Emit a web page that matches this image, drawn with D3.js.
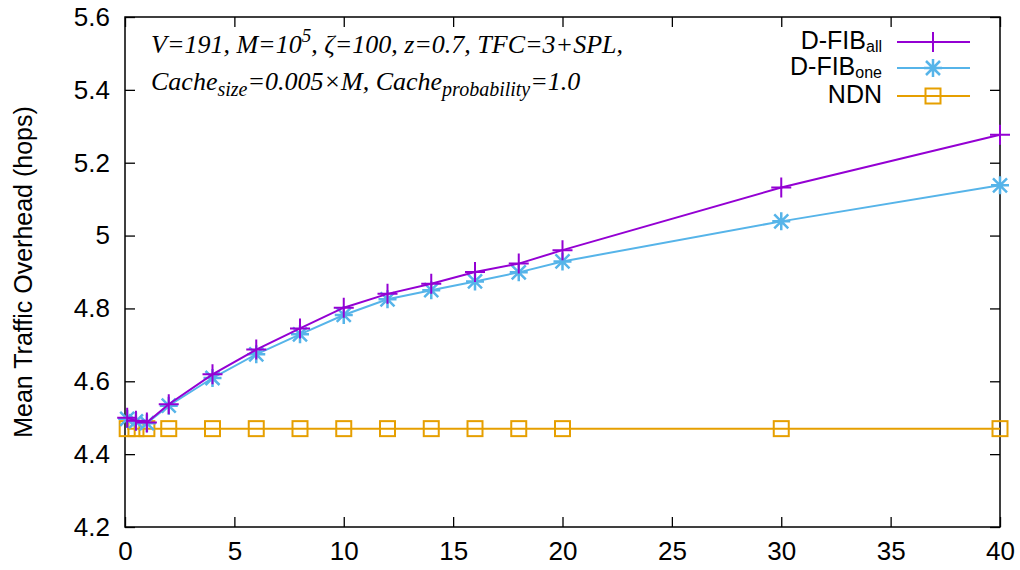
<!DOCTYPE html>
<html>
<head>
<meta charset="utf-8">
<script src="https://cdn.jsdelivr.net/npm/d3@7"></script>
<style>
  html, body { margin: 0; padding: 0; background: #fff; }
  svg { display: block; }
</style>
</head>
<body>
<svg id="chart" width="1020" height="570"></svg>
<script>
// Cache-related x values (0.1 .. 40)
const xValues = [0.1, 0.5, 1, 2, 4, 6, 8, 10, 12, 14, 16, 18, 20, 30, 40];
// Mean traffic overhead (hops) per scheme
const dfibAll = [4.500, 4.492, 4.487, 4.537, 4.619, 4.687, 4.745, 4.802, 4.840, 4.868, 4.900, 4.923, 4.960, 5.132, 5.277];
const dfibOne = [4.497, 4.490, 4.485, 4.533, 4.609, 4.674, 4.729, 4.782, 4.825, 4.850, 4.874, 4.899, 4.929, 5.039, 5.138];
const ndn     = [4.470, 4.470, 4.470, 4.470, 4.470, 4.470, 4.470, 4.470, 4.470, 4.470, 4.470, 4.470, 4.470, 4.470, 4.470];
const xTicks = [0, 5, 10, 15, 20, 25, 30, 35, 40];
const yTicks = [4.2, 4.4, 4.6, 4.8, 5.0, 5.2, 5.4, 5.6];

const svg = d3.select("#chart");
const L = 125, R = 1000, T = 17, B = 527;
const x = d3.scaleLinear().domain([0, 40]).range([L, R]);
const y = d3.scaleLinear().domain([4.2, 5.6]).range([B, T]);

const sans = "'Liberation Sans', Arial, sans-serif";
const serif = "'Liberation Serif', 'Times New Roman', serif";
const tickLen = 10;

// Axes with inward ticks (mirrored on top and right)
const fmtY = d => (d === 5 ? "5" : d3.format(".1f")(d));
const gB = svg.append("g").attr("transform", `translate(0,${B})`)
  .call(d3.axisBottom(x).tickValues(xTicks).tickSize(-tickLen).tickPadding(15).tickFormat(d3.format("d")));
const gT = svg.append("g").attr("transform", `translate(0,${T})`)
  .call(d3.axisTop(x).tickValues(xTicks).tickSize(-tickLen).tickFormat(""));
const gL = svg.append("g").attr("transform", `translate(${L},0)`)
  .call(d3.axisLeft(y).tickValues(yTicks).tickSize(-tickLen).tickPadding(15).tickFormat(fmtY));
const gR = svg.append("g").attr("transform", `translate(${R},0)`)
  .call(d3.axisRight(y).tickValues(yTicks).tickSize(-tickLen).tickFormat(""));
[gB, gT, gL, gR].forEach(g => {
  g.select(".domain").remove();
  g.selectAll(".tick line").attr("stroke", "#000").attr("stroke-width", 1.3);
  g.selectAll(".tick text").attr("fill", "#000").style("font-family", sans).style("font-size", "26px");
});

// Frame
svg.append("rect").attr("x", L).attr("y", T).attr("width", R - L).attr("height", B - T)
  .attr("fill", "none").attr("stroke", "#000").attr("stroke-width", 1.5);

// Y axis title
svg.append("text")
  .attr("transform", `translate(32,272) rotate(-90)`)
  .attr("text-anchor", "middle")
  .style("font-family", sans).style("font-size", "25px")
  .text("Mean Traffic Overhead (hops)");

// Series
const series = [
  { name: "D-FIB", sub: "all", values: dfibAll, color: "#9400D3", marker: "plus" },
  { name: "D-FIB", sub: "one", values: dfibOne, color: "#56B4E9", marker: "star" },
  { name: "NDN",   sub: "",    values: ndn,     color: "#E69F00", marker: "square" }
];

function drawMarker(g, type, cx, cy, color) {
  if (type === "plus") {
    const s = 10;
    g.append("path").attr("d", `M${cx - s},${cy}H${cx + s}M${cx},${cy - s}V${cy + s}`)
      .attr("stroke", color).attr("stroke-width", 2).attr("fill", "none");
  } else if (type === "star") {
    const s = 9, d = 7;
    g.append("path")
      .attr("d", `M${cx - s},${cy}H${cx + s}M${cx},${cy - s}V${cy + s}M${cx - d},${cy - d}L${cx + d},${cy + d}M${cx - d},${cy + d}L${cx + d},${cy - d}`)
      .attr("stroke", color).attr("stroke-width", 2.5).attr("fill", "none");
  } else {
    const s = 7.5;
    g.append("rect").attr("x", cx - s).attr("y", cy - s).attr("width", 2 * s).attr("height", 2 * s)
      .attr("stroke", color).attr("stroke-width", 2).attr("fill", "none");
  }
}

const line = d3.line().x(d => x(d[0])).y(d => y(d[1]));
// Draw NDN first, then D-FIB_one, then D-FIB_all on top
[series[2], series[1], series[0]].forEach(s => {
  const pts = xValues.map((v, i) => [v, s.values[i]]);
  const g = svg.append("g");
  g.append("path").datum(pts).attr("d", line)
    .attr("fill", "none").attr("stroke", s.color).attr("stroke-width", 2);
  pts.forEach(p => drawMarker(g, s.marker, x(p[0]), y(p[1]), s.color));
});

// Legend
const legY = [42, 68, 96];
series.forEach((s, i) => {
  const t = svg.append("text").attr("x", 882).attr("y", legY[i] + 7).attr("text-anchor", "end")
    .style("font-family", sans).style("font-size", "25px");
  t.append("tspan").text(s.name);
  if (s.sub) t.append("tspan").attr("dy", 3).style("font-size", "16px").text(s.sub);
  svg.append("line").attr("x1", 897).attr("x2", 970).attr("y1", legY[i]).attr("y2", legY[i])
    .attr("stroke", s.color).attr("stroke-width", 2);
  drawMarker(svg, s.marker, 933, legY[i], s.color);
});

// Parameter annotation
const ann = svg.append("g").style("font-family", serif).style("font-style", "italic").style("font-size", "26px");
const l1 = ann.append("text").attr("x", 151).attr("y", 53);
l1.append("tspan").text("V=191, M=10");
l1.append("tspan").attr("dy", -11).style("font-size", "19px").text("5");
l1.append("tspan").attr("dy", 11).text(", ζ=100, z=0.7, TFC=3+SPL,");
const l2 = ann.append("text").attr("x", 151).attr("y", 90);
l2.append("tspan").text("Cache");
l2.append("tspan").attr("dy", 6).style("font-size", "20px").text("size");
l2.append("tspan").attr("dy", -6).text("=0.005×M, Cache");
l2.append("tspan").attr("dy", 6).style("font-size", "20px").text("probability");
l2.append("tspan").attr("dy", -6).text("=1.0");
</script>
</body>
</html>
